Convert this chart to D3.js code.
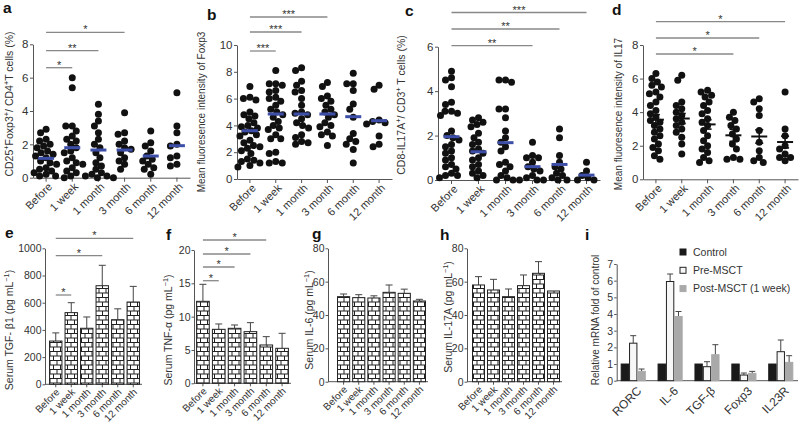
<!DOCTYPE html>
<html><head><meta charset="utf-8">
<script src="https://cdn.jsdelivr.net/npm/d3@7"></script>
<style>
body{margin:0;background:#fff;}
svg{display:block;font-family:"Liberation Sans",Arial,Helvetica,sans-serif;}
</style></head><body>
<svg id="c" width="800" height="429"></svg>
<script>
// ---------------- DATA ----------------
const timepoints = ["Before","1 week","1 month","3 month","6 month","12 month"];

// a: CD25+Foxp3+/CD4+ T cells (%)
const aValues = [
  [2.9,2.7,2.3,2.2,2.0,1.9,1.8,1.6,1.5,1.4,1.3,1.2,1.0,0.9,0.8,0.6,0.5,0.4,0.3,0.2,0.1,0.1],
  [6.0,5.4,3.1,3.1,2.8,2.5,2.3,2.2,2.0,1.8,1.6,1.5,1.2,1.0,0.9,0.8,0.6,0.4,0.3,0.1,0.0],
  [4.4,3.8,3.4,3.1,2.7,2.3,2.0,1.8,1.5,1.2,0.9,0.7,0.5,0.3,0.2,0.1,0.1,0.0,0.0],
  [3.9,2.7,2.6,2.2,2.0,1.8,1.7,1.5,1.2,1.0,0.8,0.5],
  [2.8,2.1,1.9,1.6,1.3,1.1,1.0,0.8,0.6,0.5,0.2],
  [5.1,3.1,2.7,2.0,1.9,1.3,1.2,0.8,0.7]
];
const aMeans = [1.16,1.8,1.66,1.66,1.3,1.92];
const aTicks = [0,2,4,6,8];
const aSig = [["Before","1 week","*"],["Before","1 month","**"],["Before","3 month","*"]];

// b: MFI of Foxp3
const bValues = [
  [6.9,6.1,6.0,5.9,5.0,4.8,4.7,4.5,4.2,4.0,3.9,3.8,3.6,3.5,3.3,3.2,2.9,2.7,2.5,2.4,2.3,2.1,1.9,1.5,1.4,1.3,1.2,1.0,0.9],
  [8.1,7.1,7.1,7.0,6.6,6.5,6.1,6.0,5.8,5.5,5.2,5.0,4.8,4.6,4.3,4.0,3.8,3.7,3.3,3.0,3.0,2.0,1.9,1.3,1.2,1.2],
  [8.3,8.1,7.3,7.0,6.6,6.5,6.0,5.5,5.0,4.9,4.8,4.5,4.2,4.0,3.8,3.3,3.1,2.8,2.7,2.6],
  [7.2,6.9,6.2,6.0,5.8,5.5,5.2,5.0,4.8,4.6,4.2,4.0,3.9,3.5,3.3,3.2,2.5],
  [7.9,7.1,7.1,6.6,5.6,5.2,4.6,3.4,3.0,2.8,2.6,2.2,1.2],
  [7.0,6.7,4.4,4.3,4.2,4.1,3.2,2.6,2.4]
];
const bMeans = [3.6,4.85,4.85,4.85,4.65,4.35];
const bTicks = [0,2,4,6,8,10];
const bSig = [["Before","1 week","***"],["Before","1 month","***"],["Before","3 month","***"]];

// c: CD8-IL17A+/CD3+ T cells (%)
const cValues = [
  [4.9,4.6,4.5,4.2,3.5,3.4,3.1,3.1,3.0,2.9,2.2,2.0,1.9,1.8,1.6,1.5,1.3,1.2,1.0,0.9,0.7,0.6,0.5,0.3,0.2,0.2,0.1],
  [2.8,2.7,2.6,2.5,2.4,2.1,1.9,1.7,1.6,1.4,1.3,1.2,1.0,0.9,0.7,0.6,0.4,0.3,0.2,0.1],
  [4.5,4.5,4.4,3.2,3.2,2.8,2.2,1.9,1.7,1.5,1.3,0.8,0.7,0.6,0.4,0.2,0.1,0.0,0.0,0.0],
  [1.7,1.1,1.0,1.0,0.8,0.6,0.5,0.4,0.2,0.1,0.0,0.0],
  [2.3,1.9,1.1,0.8,0.6,0.5,0.3,0.2,0.1,0.0,0.0],
  [0.8,0.4,0.2,0.1,0.0,0.0]
];
const cMeans = [1.95,1.27,1.68,0.6,0.7,0.22];
const cTicks = [0,2,4,6];
const cSig = [["Before","3 month","**"],["Before","6 month","**"],["Before","12 month","***"]];

// d: MFI of IL17 (mean ± SEM)
const dValues = [
  [6.3,6.0,5.8,5.6,5.5,5.2,5.1,4.9,4.6,4.4,4.1,3.9,3.7,3.5,3.4,3.2,3.0,2.8,2.6,2.4,2.1,1.9,1.7,1.4,1.2],
  [6.2,5.9,4.6,4.4,4.2,4.0,3.8,3.6,3.4,3.2,3.0,2.8,2.5,2.1,1.5],
  [5.3,5.2,5.0,4.9,4.6,4.4,4.1,3.9,3.6,3.4,3.2,2.9,2.6,2.3,2.0,1.8,1.6,1.3,1.1,1.0],
  [4.0,3.7,3.5,3.2,3.0,2.7,2.4,2.1,1.8,1.3,1.2,1.2],
  [4.8,4.6,4.2,3.8,2.9,2.2,1.7,1.3,1.1,1.0],
  [5.2,3.0,2.6,2.0,1.8,1.5,1.3,1.3,1.1]
];
const dMeans = [3.55,3.62,3.27,2.62,2.55,2.22];
const dSEM = [0.3,0.3,0.28,0.36,0.4,0.35];
const dTicks = [0,2,4,6,8];
const dSig = [["Before","3 month","*"],["Before","6 month","*"],["Before","12 month","*"]];

// e-h: serum cytokines (mean, SD)
const eValues = [318,527,412,725,475,605];
const eSD = [60,73,83,150,80,115];
const eTicks = [0,200,400,600,800,1000];
const eSig = [["Before","1 week","*"],["Before","3 month","*"],["Before","12 month","*"]];

const fValues = [12.3,8.1,8.25,7.75,5.75,5.25];
const fSD = [2.55,0.8,0.5,1.35,1.25,2.25];
const fTicks = [0,5,10,15,20];
const fSig = [["Before","1 week","*"],["Before","1 month","*"],["Before","3 month","*"],["Before","6 month","*"]];

const gValues = [51,50.4,50.2,53.6,53,48.4];
const gSD = [1.6,1.8,1.3,4.4,2.5,1.0];
const gTicks = [0,20,40,60,80];

const hValues = [58,55,51,57.6,65,54.4];
const hSD = [5,6.4,4.6,6.4,7,0];
const hTicks = [0,20,40,60,80];

// i: relative mRNA
const genes = ["RORC","IL-6","TGF-β","Foxp3","IL23R"];
const groups = ["Control","Pre-MSCT","Post-MSCT (1 week)"];
const iControl = [1,1,1,1,1];
const iPre = [2.25,5.95,0.84,0.34,1.74];
const iPreSD = [0.45,0.45,0.3,0.12,0.7];
const iPost = [0.56,3.85,1.56,0.44,1.1];
const iPostSD = [0.14,0.3,0.6,0.12,0.4];
const iTicks = [0,1,2,3,4,5,6,7];

// ---------------- DRAWING ----------------
const svg = d3.select("#c");
const FONT = '"Liberation Sans",Arial,Helvetica,sans-serif';
const AX = "#555", TXT = "#333";
const fmt = d3.format("d");

const defs = svg.append("defs");
const pat = defs.append("pattern").attr("id","brick").attr("patternUnits","userSpaceOnUse")
  .attr("width",7).attr("height",9);
pat.append("rect").attr("width",7).attr("height",9).attr("fill","#fff");
pat.append("path").attr("d","M0,0.5H7M0,5H7M1,0.5V5M4.5,5V9").attr("stroke","#222").attr("stroke-width",1).attr("fill","none");

function styleAxis(sel, fs){
  sel.attr("font-family",FONT).attr("font-size",fs);
  sel.select(".domain").attr("stroke",AX);
  sel.selectAll(".tick line").attr("stroke",AX);
  sel.selectAll(".tick text").attr("fill",TXT);
}
function panelLabel(t,x,y){
  svg.append("text").attr("x",x).attr("y",y).attr("font-size",15.5).attr("font-weight","bold").attr("fill","#111").text(t);
}
function yLabel(parts,x,y,fs){
  const t = svg.append("text").attr("transform",`translate(${x},${y}) rotate(-90)`)
    .attr("text-anchor","middle").attr("dy","0.35em").attr("font-size",fs).attr("fill",TXT);
  parts.forEach(p=>{
    const ts = t.append("tspan").text(p[0]);
    if(p[1]==="sup") ts.attr("baseline-shift","super").attr("font-size",fs*0.7);
  });
}
function sigBars(list, xc, ys){
  list.forEach((s,k)=>{
    const x1 = xc(s[0]), x2 = xc(s[1]), yy = ys[k];
    svg.append("line").attr("x1",x1).attr("x2",x2).attr("y1",yy).attr("y2",yy).attr("stroke","#888").attr("stroke-width",1.3);
    svg.append("text").attr("x",(x1+x2)/2).attr("y",yy+1).attr("text-anchor","middle").attr("font-size",11).attr("fill",TXT).text(s[2]);
  });
}
function swarm(ys, r){
  const order = ys.map((_,i)=>i).sort((a,b)=>ys[a]-ys[b]);
  const placed=[], xs=new Array(ys.length), d=2*r*0.9;
  for(const i of order){
    let best=0;
    for(let k=0;k<400;k++){
      const off=(k%2===0?1:-1)*Math.ceil(k/2)*0.5;
      if(placed.every(p=>(p.x-off)**2+(p.y-ys[i])**2>=d*d)){best=off;break;}
    }
    xs[i]=best; placed.push({x:best,y:ys[i]});
  }
  return xs;
}
function rotLabels(axisG, dx, dy){
  axisG.selectAll(".tick text").attr("x",0).attr("y",0).attr("dy","0.35em")
    .attr("text-anchor","end").attr("transform",`translate(${dx},${dy}) rotate(-45)`);
}

function scatterPanel(c){
  const y = d3.scaleLinear().domain([0,c.max]).range([c.yBot,c.yTop]);
  const x = d3.scaleBand().domain(timepoints).range([c.x0,c.x1]);
  const xc = k=>x(k)+x.bandwidth()/2;
  svg.append("g").attr("transform",`translate(${c.x0},0)`)
    .call(d3.axisLeft(y).tickValues(c.ticks).tickFormat(fmt).tickSize(3).tickPadding(1.5).tickSizeOuter(0)).call(styleAxis,11.5);
  const xa = svg.append("g").attr("transform",`translate(0,${c.yBot})`)
    .call(d3.axisBottom(x).tickSize(4).tickSizeOuter(0)).call(styleAxis,11);
  rotLabels(xa,4,7);
  const r=3.5;
  c.values.forEach((vals,i)=>{
    const cx = xc(timepoints[i]);
    const ys = vals.map(v=>y(v));
    const offs = swarm(ys,r);
    svg.append("g").selectAll("circle").data(vals).join("circle")
      .attr("cx",(v,j)=>cx+offs[j]).attr("cy",v=>y(v)).attr("r",r).attr("fill","#111");
    const m = c.means[i];
    if(c.sem){
      const s=c.sem[i], g=svg.append("g").attr("stroke","#111").attr("stroke-width",1.6);
      g.append("line").attr("x1",cx-8).attr("x2",cx+8).attr("y1",y(m)).attr("y2",y(m)).attr("stroke-width",2);
      g.append("line").attr("x1",cx).attr("x2",cx).attr("y1",y(m-s)).attr("y2",y(m+s));
      g.append("line").attr("x1",cx-4).attr("x2",cx+4).attr("y1",y(m-s)).attr("y2",y(m-s));
      g.append("line").attr("x1",cx-4).attr("x2",cx+4).attr("y1",y(m+s)).attr("y2",y(m+s));
    } else {
      svg.append("line").attr("x1",cx-8).attr("x2",cx+8).attr("y1",y(m)).attr("y2",y(m))
        .attr("stroke","#3d4ea8").attr("stroke-width",3);
    }
  });
  sigBars(c.sig,xc,c.sigYs);
  panelLabel(c.letter,c.lx,c.ly);
  yLabel(c.ylab,c.yx,c.yy,c.yfs);
}

function barPanel(c){
  const y = d3.scaleLinear().domain([0,c.max]).range([c.yBot,c.yTop]);
  const x = d3.scaleBand().domain(timepoints).range([c.b0,c.b1]).paddingInner(0.2).paddingOuter(0.1);
  const xc = k=>x(k)+x.bandwidth()/2;
  svg.append("g").attr("transform",`translate(${c.x0},0)`)
    .call(d3.axisLeft(y).tickValues(c.ticks).tickFormat(fmt).tickSize(2.5).tickPadding(1).tickSizeOuter(0)).call(styleAxis,10.5);
  const xa = svg.append("g").attr("transform",`translate(0,${c.yBot})`)
    .call(d3.axisBottom(x).tickSize(3).tickSizeOuter(0)).call(styleAxis,10);
  xa.select(".domain").remove();
  xa.append("line").attr("x1",c.x0).attr("x2",c.b1+1).attr("stroke",AX);
  rotLabels(xa,2,6);
  svg.append("g").selectAll("g").data(c.values).join("g").each(function(v,i){
    const sd=c.sd[i]; if(!sd) return;
    const cx=xc(timepoints[i]), g=d3.select(this).attr("stroke","#444").attr("stroke-width",1);
    g.append("line").attr("x1",cx).attr("x2",cx).attr("y1",y(v)).attr("y2",y(v+sd));
    g.append("line").attr("x1",cx-3.5).attr("x2",cx+3.5).attr("y1",y(v+sd)).attr("y2",y(v+sd));
  });
  svg.append("g").selectAll("rect").data(c.values).join("rect")
    .attr("x",(v,i)=>x(timepoints[i])).attr("width",x.bandwidth())
    .attr("y",v=>y(v)).attr("height",v=>c.yBot-y(v))
    .attr("fill","url(#brick)").attr("stroke","#222").attr("stroke-width",1);
  if(c.sig) sigBars(c.sig,xc,c.sigYs);
  panelLabel(c.letter,c.lx,c.ly);
  yLabel(c.ylab,c.yx,c.yy,c.yfs);
}

// ---- top row
scatterPanel({values:aValues,means:aMeans,ticks:aTicks,max:8,x0:33,x1:190,yTop:44.3,yBot:177.7,
  sig:aSig,sigYs:[67.7,50.7,32.3],letter:"a",lx:3,ly:13,
  ylab:[["CD25"],["+","sup"],["Foxp3"],["+","sup"],["/ CD4"],["+","sup"],["T cells (%)"]],yx:9,yy:104,yfs:10.5});
scatterPanel({values:bValues,means:bMeans,ticks:bTicks,max:10,x0:237,x1:392,yTop:45,yBot:179,
  sig:bSig,sigYs:[51,32,17],letter:"b",lx:207,ly:20,
  ylab:[["Mean fluoresence intensity of Foxp3"]],yx:201,yy:112,yfs:10});
scatterPanel({values:cValues,means:cMeans,ticks:cTicks,max:6,x0:438,x1:600,yTop:46.7,yBot:180,
  sig:cSig,sigYs:[45.7,29,12.5],letter:"c",lx:405,ly:16,
  ylab:[["CD8-IL17A"],["+","sup"],["/ CD3"],["+","sup"],[" T cells (%)"]],yx:401,yy:105,yfs:10.5});
scatterPanel({values:dValues,means:dMeans,sem:dSEM,ticks:dTicks,max:8,x0:643,x1:798,yTop:45,yBot:179.3,
  sig:dSig,sigYs:[54,38,21.7],letter:"d",lx:612,ly:15,
  ylab:[["Mean fluoresence intensity of IL17"]],yx:618,yy:114,yfs:10});

// ---- bottom row
barPanel({values:eValues,sd:eSD,ticks:eTicks,max:1000,x0:45,b0:48,b1:141,yTop:248.3,yBot:384.3,
  sig:eSig,sigYs:[295,255.7,238.3],letter:"e",lx:5,ly:238,
  ylab:[["Serum TGF- β1 (pg mL"],["−1","sup"],[")"]],yx:9,yy:330,yfs:10.5});
barPanel({values:fValues,sd:fSD,ticks:fTicks,max:20,x0:194,b0:195,b1:290,yTop:250,yBot:383.3,
  sig:fSig,sigYs:[280.7,267,254,240],letter:"f",lx:166,ly:240,
  ylab:[["Serum TNF-α (pg mL"],["−1","sup"],[")"]],yx:168,yy:330,yfs:10.5});
barPanel({values:gValues,sd:gSD,ticks:gTicks,max:80,x0:328,b0:336,b1:427,yTop:248.3,yBot:381.7,
  letter:"g",lx:312,ly:239,
  ylab:[["Serum IL-6 (pg mL"],["−1","sup"],[")"]],yx:309,yy:320,yfs:10.5});
barPanel({values:hValues,sd:hSD,ticks:hTicks,max:80,x0:467,b0:471,b1:561,yTop:248.3,yBot:381.7,
  letter:"h",lx:440,ly:240,
  ylab:[["Serum IL-17A (pg mL"],["−1","sup"],[")"]],yx:448,yy:317,yfs:10.5});

// ---- panel i
(function(){
  const yBot=380.7, yTop=264, x0=616.7;
  const y = d3.scaleLinear().domain([0,7]).range([yBot,yTop]);
  const x = d3.scaleBand().domain(genes).range([617,797]).paddingInner(0.32).paddingOuter(0.1);
  const xs = d3.scaleBand().domain(groups).range([0,x.bandwidth()]);
  svg.append("g").attr("transform",`translate(${x0},0)`)
    .call(d3.axisLeft(y).tickValues(iTicks).tickFormat(fmt).tickSize(2.5).tickPadding(1).tickSizeOuter(0)).call(styleAxis,10.5);
  const xa = svg.append("g").attr("transform",`translate(0,${yBot})`)
    .call(d3.axisBottom(x).tickSize(0).tickSizeOuter(0)).call(styleAxis,12);
  xa.select(".domain").remove();
  xa.append("line").attr("x1",x0).attr("x2",798).attr("stroke",AX);
  rotLabels(xa,6,8);
  const series = [
    {name:groups[0],vals:iControl,sd:null,fill:"#1a1a1a",stroke:"#1a1a1a"},
    {name:groups[1],vals:iPre,sd:iPreSD,fill:"#f7f7f7",stroke:"#222"},
    {name:groups[2],vals:iPost,sd:iPostSD,fill:"#a9a9a9",stroke:"#a9a9a9"}
  ];
  series.forEach(s=>{
    const g = svg.append("g");
    if(s.sd){
      s.vals.forEach((v,i)=>{
        const cx = x(genes[i])+xs(s.name)+xs.bandwidth()/2, top=y(v+s.sd[i]);
        g.append("line").attr("x1",cx).attr("x2",cx).attr("y1",y(v)).attr("y2",top).attr("stroke","#444");
        g.append("line").attr("x1",cx-3).attr("x2",cx+3).attr("y1",top).attr("y2",top).attr("stroke","#444");
      });
    }
    g.selectAll("rect").data(s.vals).join("rect")
      .attr("x",(v,i)=>x(genes[i])+xs(s.name)+0.5).attr("width",xs.bandwidth()-1)
      .attr("y",v=>y(v)).attr("height",v=>yBot-y(v))
      .attr("fill",s.fill).attr("stroke",s.stroke).attr("stroke-width",1);
  });
  const lg = svg.append("g").attr("transform","translate(680,249)");
  series.forEach((s,k)=>{
    const row = lg.append("g").attr("transform",`translate(0,${k*18.3})`);
    row.append("rect").attr("x",0).attr("y",0).attr("width",6).attr("height",6)
      .attr("fill",s.fill).attr("stroke",s.stroke);
    row.append("text").attr("x",13).attr("y",3).attr("dy","0.35em").attr("font-size",10.5).attr("fill",TXT).text(s.name);
  });
  panelLabel("i",585,240);
  yLabel([["Relative mRNA fold of control"]],595,320,10);
})();
</script>
</body></html>
